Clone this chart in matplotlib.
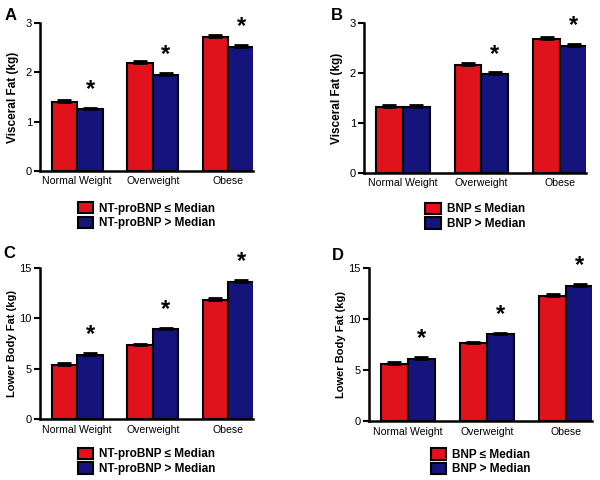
import matplotlib
matplotlib.use("Agg")
import matplotlib.pyplot as plt
import numpy as np

plt.rcParams['font.family'] = ['Liberation Sans', 'DejaVu Sans']

categories = ["Normal Weight", "Overweight", "Obese"]

# Panel A: Visceral fat by NT-proBNP
a_low = [1.40, 2.19, 2.72]
a_high = [1.25, 1.95, 2.52]
a_low_err = [0.03, 0.04, 0.04]
a_high_err = [0.03, 0.04, 0.04]
a_stars = [True, True, True]

# Panel B: Visceral fat by BNP
b_low = [1.32, 2.15, 2.69]
b_high = [1.32, 1.97, 2.55]
b_low_err = [0.03, 0.04, 0.04]
b_high_err = [0.03, 0.04, 0.04]
b_stars = [False, True, True]

# Panel C: Lower body fat by NT-proBNP
c_low = [5.4, 7.3, 11.8]
c_high = [6.4, 8.9, 13.6]
c_low_err = [0.15, 0.15, 0.2]
c_high_err = [0.15, 0.15, 0.2]
c_stars = [True, True, True]

# Panel D: Lower body fat by BNP
d_low = [5.6, 7.6, 12.2]
d_high = [6.1, 8.5, 13.2]
d_low_err = [0.15, 0.15, 0.2]
d_high_err = [0.15, 0.15, 0.2]
d_stars = [True, True, True]

red = "#e0121c"
blue = "#14147c"

fig = plt.figure(figsize=(6, 4.8), dpi=100)

panels = [
    ("A", (11, 15), [0.067, 0.644, 0.355, 0.308], a_low, a_high, a_low_err, a_high_err, a_stars,
     "Visceral Fat (kg)", (0, 3), [0, 1, 2, 3], "NT-proBNP", 8.5, 5, -0.155),
    ("B", (337, 15), [0.607, 0.640, 0.370, 0.312], b_low, b_high, b_low_err, b_high_err, b_stars,
     "Visceral Fat (kg)", (0, 3), [0, 1, 2, 3], "BNP", 8.5, 5, -0.145),
    ("C", (9, 254), [0.067, 0.127, 0.355, 0.315], c_low, c_high, c_low_err, c_high_err, c_stars,
     "Lower Body Fat (kg)", (0, 15), [0, 5, 10, 15], "NT-proBNP", 8, 2, -0.135),
    ("D", (338, 255), [0.615, 0.123, 0.372, 0.319], d_low, d_high, d_low_err, d_high_err, d_stars,
     "Lower Body Fat (kg)", (0, 15), [0, 5, 10, 15], "BNP", 8, 2, -0.125),
]

x = np.arange(len(categories))
w = 0.34
for (letter, lpos, pos, low, high, lerr, herr, stars, ylabel, ylim, yticks, marker,
     ylsize, ylpad, legy) in panels:
    ax = fig.add_axes(pos)
    ax.bar(x - w / 2, low, w, color=red, edgecolor="black", linewidth=1.5,
           yerr=[[0] * 3, lerr], capsize=5,
           error_kw=dict(elinewidth=2, capthick=2, ecolor="black"),
           label=f"{marker} \u2264 Median")
    ax.bar(x + w / 2, high, w, color=blue, edgecolor="black", linewidth=1.5,
           yerr=[[0] * 3, herr], capsize=5,
           error_kw=dict(elinewidth=2, capthick=2, ecolor="black"),
           label=f"{marker} > Median")
    for i, s in enumerate(stars):
        if s:
            ax.annotate("*", (x[i] + w / 2, high[i] + herr[i]), xytext=(0, 5),
                        textcoords="offset points", ha="center", va="bottom",
                        fontsize=17, fontweight="bold")
    ax.set_xlim(-0.49, 2.33)
    ax.set_ylim(*ylim)
    ax.set_yticks(yticks)
    ax.set_xticks(x)
    ax.set_xticklabels(categories, fontsize=7.6)
    ax.tick_params(axis="x", length=0, pad=4)
    ax.tick_params(axis="y", labelsize=8, width=1.5, length=4, pad=2)
    for sp in ["top", "right"]:
        ax.spines[sp].set_visible(False)
    for sp in ["left", "bottom"]:
        ax.spines[sp].set_linewidth(1.8)
    ax.set_ylabel(ylabel, fontsize=ylsize, fontweight="bold", labelpad=ylpad)
    fig.text(lpos[0] / 600, 1 - lpos[1] / 480, letter, fontsize=12,
             fontweight="bold", ha="center", va="center")
    ax.legend(loc="upper center", bbox_to_anchor=(0.5, legy), frameon=False,
              handlelength=1.3, handleheight=1.1, handletextpad=0.5,
              labelspacing=0.15, borderpad=0.2,
              prop=dict(size=8.5, weight="bold"))

fig.savefig("out.png", dpi=100)
